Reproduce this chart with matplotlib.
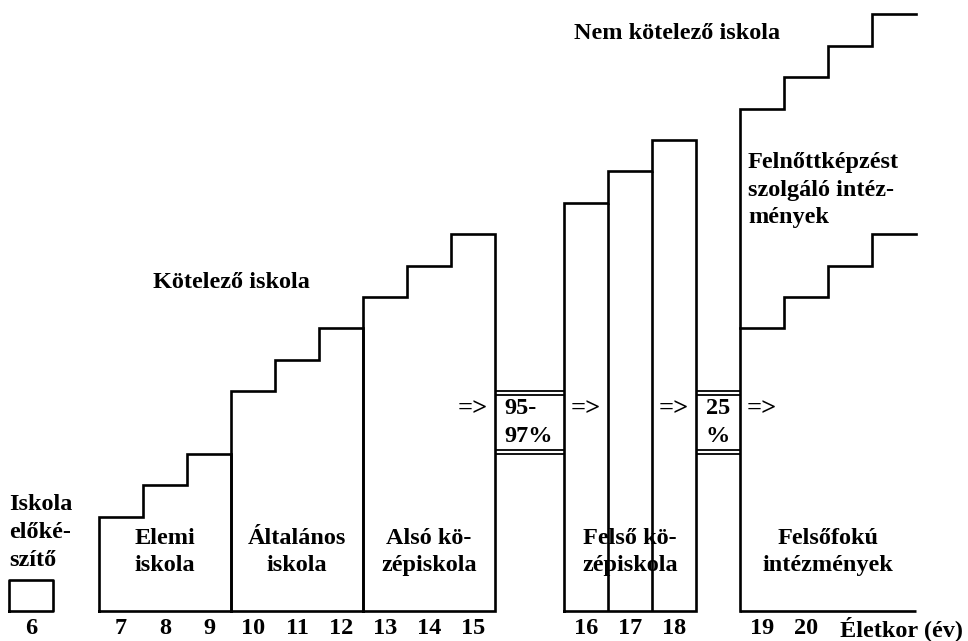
import matplotlib
matplotlib.use('Agg')
import matplotlib.pyplot as plt

# adatok: eletkor es a lepcsok szintjei (relativ egyseg)
eletkor = [6, 7, 8, 9, 10, 11, 12, 13, 14, 15, 16, 17, 18, 19, 20]
elokeszito_szint = 1
elemi_szint = [3, 4, 5]          # 7-9 ev
altalanos_szint = [7, 8, 9]      # 10-12 ev
also_szint = [10, 11, 12]        # 13-15 ev
felso_szint = [13, 14, 15]       # 16-18 ev
felnott_szint = [16, 17, 18, 19] # 19-22 ev
felsofoku_szint = [9, 10, 11, 12]
atmenet_also = 5
atmenet_felso = 7
atmenet_szoveg = ['95-\n97%', '25\n%']
blokk_kezdet = [7, 10, 13, 16, 19]
blokk_nevek = ['Elemi\niskola', 'Általános\niskola', 'Alsó kö-\nzépiskola',
               'Felső kö-\nzépiskola', 'Felsőfokú\nintézmények']

# elrendezes
GAP_PRE, GAP_KOZEP, GAP_FELSO = 1.05, 1.57, 1.0
LW = 1.9
LS = 1.42
FONT = dict(family='Liberation Serif', fontweight='bold', fontsize=17.5)


def bal(kor):
    x = kor - 7
    if kor < 7:
        x -= GAP_PRE
    if kor >= 16:
        x += GAP_KOZEP
    if kor >= 19:
        x += GAP_FELSO
    return x


def lepcso(ax, kor0, szintek, zart=True, alul=True):
    x0 = bal(kor0)
    xs, ys = ([x0], [0]) if alul else ([], [])
    for i, h in enumerate(szintek):
        xs += [x0 + i, x0 + i + 1]
        ys += [h, h]
    if zart:
        xs += [x0 + len(szintek), x0]
        ys += [0, 0]
    ax.plot(xs, ys, color='black', lw=LW, solid_joinstyle='miter')


fig = plt.figure(figsize=(9.68, 6.41), dpi=100)
ax = fig.add_axes([0, 0, 1, 1])
ax.set_xlim(-99 / 44, 869 / 44)
ax.set_ylim(-30 / 31.4, 611 / 31.4)
ax.axis('off')

# iskola-elokeszito doboz
x6 = bal(6)
ax.plot([x6, x6, x6 + 1, x6 + 1, x6], [0, elokeszito_szint, elokeszito_szint, 0, 0],
        color='black', lw=LW)

# kotelezo iskola
lepcso(ax, 7, elemi_szint)
lepcso(ax, 10, altalanos_szint)
lepcso(ax, 13, also_szint)

# felso kozepiskola
lepcso(ax, 16, felso_szint)
for i in (1, 2):
    ax.vlines(bal(16 + i), 0, felso_szint[i - 1], color='black', lw=LW)

# felsofoku intezmenyek
lepcso(ax, 19, felnott_szint, zart=False)
ax.hlines(0, bal(19), bal(19) + len(felnott_szint), color='black', lw=LW)
lepcso(ax, 19, felsofoku_szint, zart=False, alul=False)

# atmenetek
atmenetek = [(bal(15) + 1, bal(16)), (bal(18) + 1, bal(19))]
for (xa, xb), szoveg in zip(atmenetek, atmenet_szoveg):
    for y in (atmenet_also, atmenet_also + 0.12, atmenet_felso - 0.12, atmenet_felso):
        ax.hlines(y, xa, xb, color='black', lw=1.3)
    yk = (atmenet_also + atmenet_felso) / 2
    if szoveg.startswith('95'):
        ax.text(xa + 0.22, yk, szoveg, ha='left', va='center', linespacing=LS, **FONT)
    else:
        ax.text((xa + xb) / 2, yk, szoveg, ha='center', va='center', linespacing=LS, **FONT)

for kor in (15, 16, 18, 19):
    ax.text(bal(kor) + 0.5, 6.45, '=>', ha='center', va='center',
            family='Liberation Serif', fontweight='bold', fontsize=19)

# feliratok
for kor0, nev in zip(blokk_kezdet, blokk_nevek):
    n = 4 if kor0 == 19 else 3
    ax.text(bal(kor0) + n / 2, 1.88, nev, ha='center', va='center', linespacing=LS, **FONT)

ax.text(x6, 2.5, 'Iskola\nelőké-\nszítő', ha='left', va='center', linespacing=LS, **FONT)
ax.text(bal(10), 10.45, 'Kötelező iskola', ha='center', va='center', **FONT)
ax.text(bal(20) - 0.1, 18.4, 'Nem kötelező iskola', ha='right', va='center', **FONT)
ax.text(bal(19) + 0.18, 13.4, 'Felnőttképzést\nszolgáló intéz-\nmények',
        ha='left', va='center', linespacing=LS, **FONT)

for kor in eletkor:
    ax.text(bal(kor) + 0.5, -0.55, str(kor), ha='center', va='center', **FONT)
ax.text(bal(21) + 0.27, -0.55, 'Életkor (év)', ha='left', va='center', **FONT)

fig.savefig('out.png', dpi=100, facecolor='white')
